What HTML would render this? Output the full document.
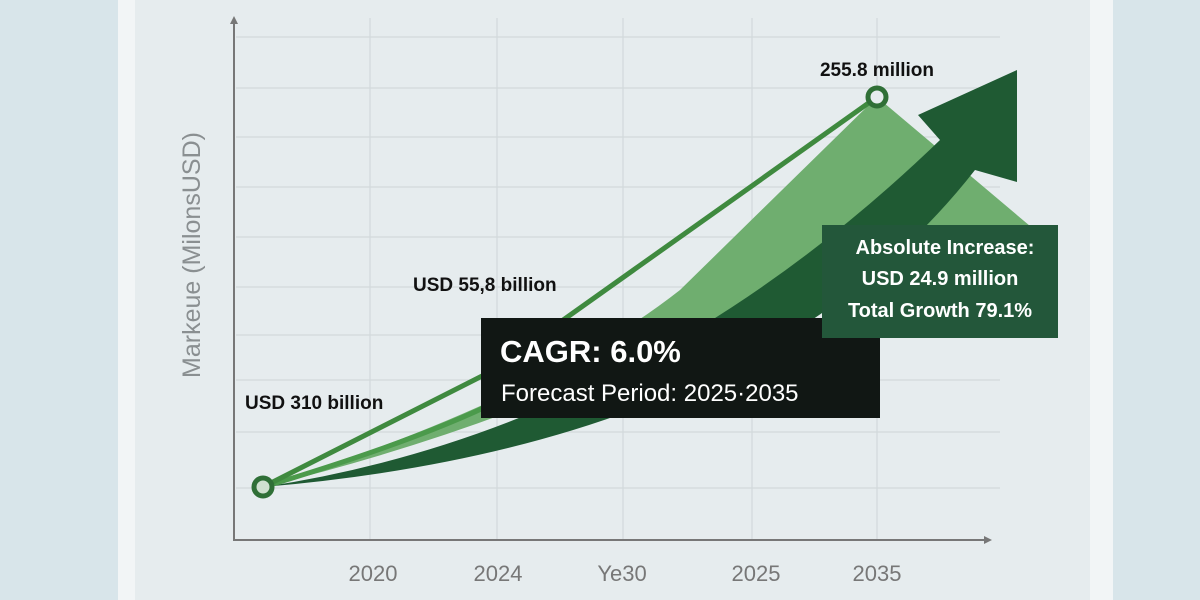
<!DOCTYPE html>
<html><head><meta charset="utf-8"><style>
html,body{margin:0;padding:0;width:1200px;height:600px;overflow:hidden;background:#d6e3e8;}
svg{display:block}
text{font-family:"Liberation Sans","DejaVu Sans",sans-serif}
</style></head><body>
<svg width="1200" height="600" viewBox="0 0 1200 600" xmlns="http://www.w3.org/2000/svg">
<rect width="1200" height="600" fill="#d8e5ea"/>
<rect x="118" y="0" width="995" height="600" fill="#f2f5f6"/>
<rect x="135" y="0" width="955" height="600" fill="#e6ecee"/>
<g stroke="#d2d9dc" stroke-width="1.2">
<line x1="236" y1="37" x2="1000" y2="37"/><line x1="236" y1="88" x2="1000" y2="88"/>
<line x1="236" y1="137" x2="1000" y2="137"/><line x1="236" y1="187" x2="1000" y2="187"/>
<line x1="236" y1="237" x2="1000" y2="237"/><line x1="236" y1="287" x2="1000" y2="287"/>
<line x1="236" y1="335" x2="1000" y2="335"/><line x1="236" y1="380" x2="1000" y2="380"/>
<line x1="236" y1="432" x2="1000" y2="432"/><line x1="236" y1="488" x2="1000" y2="488"/>
<line x1="370" y1="18" x2="370" y2="540"/><line x1="497" y1="18" x2="497" y2="540"/>
<line x1="623" y1="18" x2="623" y2="540"/><line x1="752" y1="18" x2="752" y2="540"/>
<line x1="877" y1="18" x2="877" y2="540"/>
</g>
<line x1="234" y1="20" x2="234" y2="541" stroke="#777" stroke-width="2"/>
<polygon points="230,24 234,16 238,24" fill="#777"/>
<line x1="233" y1="540" x2="988" y2="540" stroke="#777" stroke-width="2"/>
<polygon points="984,536 992,540 984,544" fill="#777"/>
<path d="M263,487 Q540,400 680,290 L877,97 L1030,226 L870,226 Q620,400 263,487 Z" fill="#6fae6f"/>
<path d="M263,487 Q640,430 940,140 L918,115 L1017,70 L1017,182 L975,170 Q760,445 263,487 Z" fill="#1f5a33"/>
<path d="M263,487 Q420,440 500,400" stroke="#4b9a4b" stroke-width="5" fill="none"/>
<polyline points="263,487 490,372 877,97" stroke="#3f8a3f" stroke-width="5" fill="none"/>
<circle cx="263" cy="487" r="9" fill="#cfe0cf" stroke="#2f6f36" stroke-width="5"/>
<circle cx="877" cy="97" r="9" fill="#e6ecee" stroke="#2f6f36" stroke-width="5"/>
<rect x="481" y="318" width="399" height="100" fill="#111714"/>
<text x="500" y="362" fill="#fff" font-size="31" font-weight="bold">CAGR: 6.0%</text>
<text x="501" y="401" fill="#fff" font-size="24">Forecast Period: 2025·2035</text>
<rect x="822" y="225" width="236" height="113" fill="#23573a"/>
<g fill="#fff" font-size="20" font-weight="bold" text-anchor="middle">
<text x="945" y="254">Absolute Increase:</text>
<text x="940" y="285">USD 24.9 million</text>
<text x="940" y="317">Total Growth 79.1%</text>
</g>
<g fill="#111" font-size="19" font-weight="bold">
<text x="877" y="76" text-anchor="middle">255.8 million</text>
<text x="413" y="291">USD 55,8 billion</text>
<text x="245" y="409">USD 310 billion</text>
</g>
<g fill="#777" font-size="22" text-anchor="middle">
<text x="373" y="581">2020</text><text x="498" y="581">2024</text>
<text x="622" y="581">Ye30</text><text x="756" y="581">2025</text>
<text x="877" y="581">2035</text>
</g>
<text transform="translate(200,255) rotate(-90)" fill="#8a8f91" font-size="25" text-anchor="middle">Markeue (MilonsUSD)</text>
</svg>
</body></html>
